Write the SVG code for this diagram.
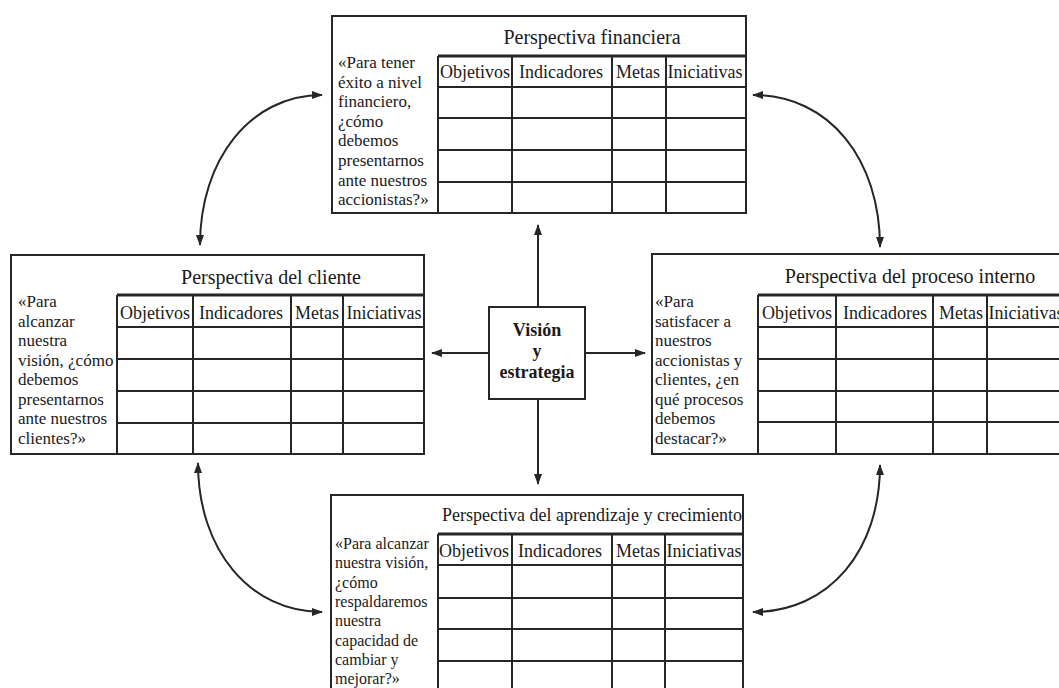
<svg xmlns="http://www.w3.org/2000/svg" width="1059" height="688" viewBox="0 0 1059 688">
  <style>
    .frame { fill: #fff; stroke: #262626; stroke-width: 2; }
    .grid { stroke: #262626; stroke-width: 2; fill: none; }
    .head { stroke: #262626; stroke-width: 3; fill: none; }
    .title { font-family: "Liberation Serif", "Times New Roman", serif; font-size: 20px; fill: #1a1a1a; text-anchor: middle; }
    .col { font-family: "Liberation Serif", "Times New Roman", serif; font-size: 18px; fill: #1a1a1a; text-anchor: middle; }
    .q { font-family: "Liberation Serif", "Times New Roman", serif; font-size: 17px; fill: #1a1a1a; }
    .core { font-family: "Liberation Serif", "Times New Roman", serif; font-size: 18px; font-weight: bold; fill: #1a1a1a; text-anchor: middle; }
    .link { stroke: #262626; stroke-width: 2; fill: none; marker-end: url(#tip); }
    .both { stroke: #262626; stroke-width: 2; fill: none; marker-start: url(#tip); marker-end: url(#tip); }
  </style>
  <defs>
    <marker id="tip" markerUnits="userSpaceOnUse" markerWidth="11" markerHeight="8" refX="10" refY="4" orient="auto-start-reverse">
      <path d="M0,0 L11,4 L0,8 z" fill="#262626"/>
    </marker>
  </defs>
  <rect width="1059" height="688" fill="#fff"/>

  <!-- Perspectiva financiera -->
  <g id="financiera">
    <rect class="frame" x="332" y="16" width="414" height="197"/>
    <text class="title" x="592" y="44">Perspectiva financiera</text>
    <path class="head" d="M438 56 H746"/>
    <path class="grid" d="M438 56 V213 M512 56 V213 M612 56 V213 M666 56 V213 M438 87 H746 M438 118 H746 M438 150 H746 M438 182 H746"/>
    <text class="col" x="475" y="78">Objetivos</text>
    <text class="col" x="561" y="78">Indicadores</text>
    <text class="col" x="638" y="78">Metas</text>
    <text class="col" x="705" y="78">Iniciativas</text>
    <text class="q" x="338" y="68">
      <tspan x="338">«Para tener</tspan>
      <tspan x="338" dy="19.6">éxito a nivel</tspan>
      <tspan x="338" dy="19.6">financiero,</tspan>
      <tspan x="338" dy="19.6">¿cómo</tspan>
      <tspan x="338" dy="19.6">debemos</tspan>
      <tspan x="338" dy="19.6">presentarnos</tspan>
      <tspan x="338" dy="19.6">ante nuestros</tspan>
      <tspan x="338" dy="19.6">accionistas?»</tspan>
    </text>
  </g>

  <!-- Perspectiva del cliente -->
  <g id="cliente">
    <rect class="frame" x="11" y="255" width="413" height="199"/>
    <text class="title" x="271" y="284">Perspectiva del cliente</text>
    <path class="head" d="M117 295 H424"/>
    <path class="grid" d="M117 295 V454 M193 295 V454 M291 295 V454 M343 295 V454 M117 327 H424 M117 359 H424 M117 391 H424 M117 423 H424"/>
    <text class="col" x="155" y="319">Objetivos</text>
    <text class="col" x="241" y="319">Indicadores</text>
    <text class="col" x="317" y="319">Metas</text>
    <text class="col" x="384" y="319">Iniciativas</text>
    <text class="q" x="18" y="307">
      <tspan x="18">«Para</tspan>
      <tspan x="18" dy="19.5">alcanzar</tspan>
      <tspan x="18" dy="19.5">nuestra</tspan>
      <tspan x="18" dy="19.5">visión, ¿cómo</tspan>
      <tspan x="18" dy="19.5">debemos</tspan>
      <tspan x="18" dy="19.5">presentarnos</tspan>
      <tspan x="18" dy="19.5">ante nuestros</tspan>
      <tspan x="18" dy="19.5">clientes?»</tspan>
    </text>
  </g>

  <!-- Perspectiva del proceso interno -->
  <g id="interno">
    <rect class="frame" x="652" y="254" width="420" height="200"/>
    <text class="title" x="910" y="283">Perspectiva del proceso interno</text>
    <path class="head" d="M758 295 H1072"/>
    <path class="grid" d="M758 295 V454 M836 295 V454 M933 295 V454 M987 295 V454 M758 327 H1072 M758 359 H1072 M758 391 H1072 M758 422 H1072"/>
    <text class="col" x="797" y="319">Objetivos</text>
    <text class="col" x="885" y="319">Indicadores</text>
    <text class="col" x="961" y="319">Metas</text>
    <text class="col" x="1026" y="319">Iniciativas</text>
    <text class="q" x="655" y="307">
      <tspan x="655">«Para</tspan>
      <tspan x="655" dy="19.5">satisfacer a</tspan>
      <tspan x="655" dy="19.5">nuestros</tspan>
      <tspan x="655" dy="19.5">accionistas y</tspan>
      <tspan x="655" dy="19.5">clientes, ¿en</tspan>
      <tspan x="655" dy="19.5">qué procesos</tspan>
      <tspan x="655" dy="19.5">debemos</tspan>
      <tspan x="655" dy="19.5">destacar?»</tspan>
    </text>
  </g>

  <!-- Perspectiva del aprendizaje y crecimiento -->
  <g id="aprendizaje">
    <rect class="frame" x="331" y="495" width="412" height="210"/>
    <text class="title" x="592" y="521" style="font-size:18px">Perspectiva del aprendizaje y crecimiento</text>
    <path class="head" d="M438 534 H743"/>
    <path class="grid" d="M438 534 V700 M512 534 V700 M612 534 V700 M665 534 V700 M438 565 H743 M438 598 H743 M438 629 H743 M438 661 H743"/>
    <text class="col" x="474" y="557">Objetivos</text>
    <text class="col" x="560" y="557">Indicadores</text>
    <text class="col" x="638" y="557">Metas</text>
    <text class="col" x="704" y="557">Iniciativas</text>
    <text class="q" x="335" y="549" style="font-size:16px">
      <tspan x="335">«Para alcanzar</tspan>
      <tspan x="335" dy="19.3">nuestra visión,</tspan>
      <tspan x="335" dy="19.3">¿cómo</tspan>
      <tspan x="335" dy="19.3">respaldaremos</tspan>
      <tspan x="335" dy="19.3">nuestra</tspan>
      <tspan x="335" dy="19.3">capacidad de</tspan>
      <tspan x="335" dy="19.3">cambiar y</tspan>
      <tspan x="335" dy="19.3">mejorar?»</tspan>
    </text>
  </g>

  <!-- Visión y estrategia -->
  <g id="vision">
    <rect class="frame" x="489" y="307" width="96" height="92"/>
    <text class="core" x="537" y="336">Visión</text>
    <text class="core" x="537" y="357">y</text>
    <text class="core" x="537" y="378">estrategia</text>
  </g>

  <!-- connectors -->
  <g id="connectors">
    <path class="link" d="M538 307 V225"/>
    <path class="link" d="M538 399 V484"/>
    <path class="link" d="M489 353 H432"/>
    <path class="link" d="M585 353 H645"/>
    <path class="both" d="M200 245 C200 160 250 95 322 95"/>
    <path class="both" d="M880 247 C880 160 830 95 753 95"/>
    <path class="both" d="M198 463 C198 550 250 612 322 612"/>
    <path class="both" d="M880 465 C880 550 830 612 753 612"/>
  </g>
</svg>
